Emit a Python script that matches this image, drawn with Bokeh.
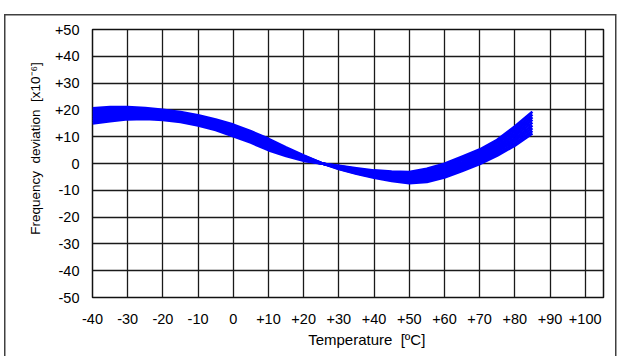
from bokeh.plotting import figure
from bokeh.models import FixedTicker, Range1d
from bokeh.embed import file_html
from bokeh.resources import INLINE

# ---------------- data ----------------
temps = [-40, -35, -30, -25, -20, -15, -10, -5, 0, 5, 10, 15, 20, 25,
         30, 35, 40, 45, 50, 55, 60, 65, 70, 75, 80, 85]

curve_1 = [20.6, 21.0, 21.0, 20.7, 20.0, 19.2, 18.0, 16.4, 14.5, 12.0, 9.2, 6.0, 3.0, 0.2,
           -2.0, -3.8, -5.3, -6.5, -7.3, -6.9, -5.2, -2.8, -0.2, 3.0, 6.7, 11.2]
curve_2 = [19.9, 20.4, 20.4, 20.2, 19.5, 18.7, 17.5, 15.9, 14.0, 11.5, 8.7, 5.6, 2.8, 0.2,
           -1.9, -3.6, -5.0, -6.1, -6.8, -6.3, -4.6, -2.1, 0.5, 3.7, 7.6, 12.2]
curve_3 = [19.2, 19.7, 19.9, 19.7, 19.1, 18.3, 17.1, 15.4, 13.4, 11.0, 8.2, 5.2, 2.5, 0.2,
           -1.7, -3.3, -4.6, -5.6, -6.3, -5.7, -3.9, -1.5, 1.2, 4.5, 8.5, 13.2]
curve_4 = [18.5, 19.1, 19.3, 19.2, 18.6, 17.8, 16.6, 14.9, 12.9, 10.4, 7.6, 4.8, 2.3, 0.1,
           -1.6, -3.1, -4.3, -5.2, -5.8, -5.1, -3.3, -0.8, 1.8, 5.2, 9.4, 14.2]
curve_5 = [17.8, 18.4, 18.8, 18.7, 18.2, 17.4, 16.1, 14.5, 12.4, 9.9, 7.1, 4.4, 2.0, 0.1,
           -1.5, -2.8, -4.0, -4.8, -5.3, -4.5, -2.7, -0.2, 2.5, 5.9, 10.3, 15.3]
curve_6 = [17.1, 17.8, 18.2, 18.1, 17.7, 16.9, 15.6, 14.0, 11.8, 9.4, 6.6, 4.0, 1.8, 0.1,
           -1.3, -2.6, -3.6, -4.3, -4.7, -3.8, -2.0, 0.5, 3.2, 6.6, 11.1, 16.3]
curve_7 = [16.4, 17.1, 17.6, 17.6, 17.2, 16.4, 15.2, 13.5, 11.3, 8.9, 6.1, 3.6, 1.5, 0.0,
           -1.2, -2.3, -3.3, -3.9, -4.2, -3.2, -1.4, 1.2, 3.9, 7.4, 12.0, 17.3]
curve_8 = [15.7, 16.5, 17.1, 17.1, 16.8, 16.0, 14.7, 13.0, 10.7, 8.3, 5.5, 3.2, 1.3, 0.0,
           -1.0, -2.1, -2.9, -3.4, -3.7, -2.6, -0.7, 1.8, 4.5, 8.1, 12.9, 18.3]
curve_9 = [15.0, 15.8, 16.5, 16.6, 16.3, 15.5, 14.2, 12.5, 10.2, 7.8, 5.0, 2.8, 1.0, 0.0,
           -0.9, -1.8, -2.6, -3.0, -3.2, -2.0, -0.1, 2.5, 5.2, 8.8, 13.8, 19.3]

curves = [curve_1, curve_2, curve_3, curve_4, curve_5, curve_6, curve_7, curve_8, curve_9]

x_ticks = [-40, -30, -20, -10, 0, 10, 20, 30, 40, 50, 60, 70, 80, 90, 100]
x_tick_labels = ["-40", "-30", "-20", "-10", "0", "+10", "+20", "+30", "+40", "+50",
                 "+60", "+70", "+80", "+90", "+100"]
y_ticks = [-50, -40, -30, -20, -10, 0, 10, 20, 30, 40, 50]
y_tick_labels = ["-50", "-40", "-30", "-20", "-10", "0", "+10", "+20", "+30", "+40", "+50"]

NB = "\u00a0"
x_title = "Temperature" + NB + NB + "[\u00baC]"
y_title = "Frequency" + NB + NB + "deviation" + NB + NB + "[x10\u207b\u2076]"

FONT = "Liberation Sans"

# ---------------- figure ----------------
edge = "#404040"
frame_css = (
    f"linear-gradient({edge},{edge}) 4px 14px / 612px 1.5px no-repeat, "
    f"linear-gradient({edge},{edge}) 4px 14px / 1.5px 342px no-repeat, "
    f"linear-gradient({edge},{edge}) 614.5px 14px / 1.5px 342px no-repeat, #ffffff"
)

p = figure(width=620, height=356, output_backend="svg", toolbar_location=None,
           x_range=Range1d(-40, 105.2), y_range=Range1d(-50, 50),
           min_border_left=92, min_border_right=17, min_border_top=29, min_border_bottom=59,
           styles={"background": frame_css})
p.background_fill_color = "white"
p.border_fill_color = None
p.outline_line_color = "#111111"
p.outline_line_width = 1.5

for ax, ticks, labels in ((p.xaxis[0], x_ticks, x_tick_labels), (p.yaxis[0], y_ticks, y_tick_labels)):
    ax.ticker = FixedTicker(ticks=ticks)
    ax.major_label_overrides = {t: l for t, l in zip(ticks, labels)}
    ax.major_tick_line_color = None
    ax.minor_tick_line_color = None
    ax.major_tick_out = 0
    ax.major_tick_in = 0
    ax.minor_tick_out = 0
    ax.minor_tick_in = 0
    ax.axis_line_color = None
    ax.major_label_text_font = FONT
    ax.major_label_text_font_size = "14.5px"
    ax.major_label_text_color = "black"
    ax.axis_label_text_font = FONT
    ax.axis_label_text_font_style = "normal"
    ax.axis_label_text_color = "black"

p.xaxis.major_label_standoff = 16
p.yaxis.major_label_standoff = 13

# axis titles (leading no-break spaces shift them to where the reference has them)
p.xaxis.axis_label = NB * 9 + x_title
p.xaxis.axis_label_text_font_size = "15px"
p.xaxis.axis_label_standoff = 4
p.yaxis.axis_label = NB * 8 + y_title
p.yaxis.axis_label_text_font_size = "13.5px"
p.yaxis.axis_label_standoff = 9

p.xgrid.ticker = FixedTicker(ticks=x_ticks)
p.ygrid.ticker = FixedTicker(ticks=y_ticks)
for g in (p.xgrid[0], p.ygrid[0]):
    g.grid_line_color = "#1a1a1a"
    g.grid_line_width = 1.3

for c in curves:
    p.line(temps, c, line_color="#0000ff", line_width=2.7, line_join="round")

open("out.html", "w").write(file_html(p, INLINE))
